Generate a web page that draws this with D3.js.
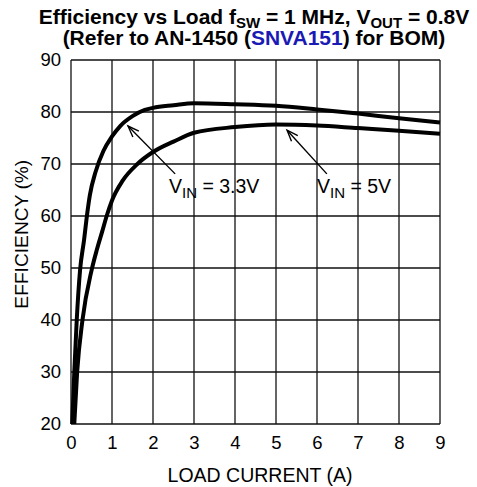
<!DOCTYPE html>
<html>
<head>
<meta charset="utf-8">
<script src="https://cdn.jsdelivr.net/npm/d3@7"></script>
<style>
  html, body { margin: 0; padding: 0; background: #fff; }
  svg { display: block; font-family: "Liberation Sans", Arial, Helvetica, sans-serif; }
</style>
</head>
<body>
<svg id="chart" width="477" height="487"></svg>
<script>
// Load current (A) vs efficiency (%) for two input voltages
const vin33 = [
  [0.03, 20], [0.08, 30], [0.14, 40], [0.22, 49.5], [0.32, 55.5], [0.38, 59.5],
  [0.46, 64], [0.6, 68.5], [0.79, 72.5], [1.0, 75.3], [1.2, 77.3], [1.5, 79.2],
  [1.8, 80.4], [2.0, 80.8], [2.5, 81.3], [3.0, 81.7], [4.0, 81.5], [5.0, 81.2],
  [6.0, 80.5], [7.0, 79.7], [8.0, 78.8], [9.0, 78.0]
];
const vin5 = [
  [0.08, 20], [0.15, 30], [0.28, 40], [0.5, 49.5], [0.63, 53.5], [0.76, 57],
  [0.87, 60], [1.0, 63], [1.26, 66.8], [1.62, 70], [2.0, 72.3], [2.5, 74.3],
  [3.0, 76.0], [4.0, 77.1], [5.0, 77.6], [6.0, 77.4], [7.0, 76.9], [8.0, 76.4],
  [9.0, 75.8]
];
const xTicks = [0, 1, 2, 3, 4, 5, 6, 7, 8, 9];
const yTicks = [20, 30, 40, 50, 60, 70, 80, 90];

// Annotation callouts: label anchor, arrow tail and arrow tip in data units
const callouts = [
  { sub: "IN", rest: " = 3.3V", label: [2.39, 64.4], tail: [2.54, 68.1], tip: [1.39, 77.3] },
  { sub: "IN", rest: " = 5V",   label: [6.0, 64.4],  tail: [6.24, 68.1], tip: [5.27, 76.5] }
];

const svg = d3.select("#chart");
const margin = { left: 71, right: 37, top: 60, bottom: 63 };
const W = 477, H = 487;
const x = d3.scaleLinear().domain([0, 9]).range([margin.left, W - margin.right]);
const y = d3.scaleLinear().domain([20, 90]).range([H - margin.bottom, margin.top]);

// Grid
const grid = svg.append("g").attr("stroke", "#111").attr("stroke-width", 1.3);
grid.selectAll("line.v").data(xTicks).join("line")
  .attr("x1", d => x(d)).attr("x2", d => x(d))
  .attr("y1", y(20)).attr("y2", y(90));
grid.selectAll("line.h").data(yTicks).join("line")
  .attr("x1", x(0)).attr("x2", x(9))
  .attr("y1", d => y(d)).attr("y2", d => y(d));

// Axes (labels only; frame comes from the grid)
const xAxis = svg.append("g").attr("transform", `translate(0,${y(20)})`)
  .call(d3.axisBottom(x).tickValues(xTicks).tickSize(0).tickPadding(12).tickFormat(d3.format("d")));
const yAxis = svg.append("g").attr("transform", `translate(${x(0)},0)`)
  .call(d3.axisLeft(y).tickValues(yTicks).tickSize(0).tickPadding(10).tickFormat(d3.format("d")));
[xAxis, yAxis].forEach(a => {
  a.select(".domain").remove();
  a.selectAll("text").attr("font-size", 18.5).attr("fill", "#000")
    .attr("font-family", "Liberation Sans, Arial, sans-serif");
});

// Curves
const line = d3.line().x(d => x(d[0])).y(d => y(d[1])).curve(d3.curveMonotoneX);
svg.selectAll("path.curve").data([vin33, vin5]).join("path")
  .attr("class", "curve")
  .attr("d", line)
  .attr("fill", "none").attr("stroke", "#000").attr("stroke-width", 4)
  .attr("stroke-linejoin", "round").attr("stroke-linecap", "butt");

// Callouts
callouts.forEach(c => {
  const x1 = x(c.tail[0]), y1 = y(c.tail[1]), x2 = x(c.tip[0]), y2 = y(c.tip[1]);
  svg.append("line").attr("x1", x1).attr("y1", y1).attr("x2", x2).attr("y2", y2)
    .attr("stroke", "#000").attr("stroke-width", 1.4);
  const ang = Math.atan2(y1 - y2, x1 - x2), len = 12, spread = 0.36;
  const p = a => [x2 + len * Math.cos(a), y2 + len * Math.sin(a)];
  const a1 = p(ang + spread), a2 = p(ang - spread);
  svg.append("path").attr("d", `M${a1[0]},${a1[1]}L${x2},${y2}L${a2[0]},${a2[1]}`)
    .attr("fill", "none").attr("stroke", "#000").attr("stroke-width", 1.4);
  const t = svg.append("text").attr("x", x(c.label[0])).attr("y", y(c.label[1]))
    .attr("font-size", 19.5).attr("fill", "#000");
  t.append("tspan").text("V");
  t.append("tspan").attr("font-size", 15).attr("dy", 5).text(c.sub);
  t.append("tspan").attr("dy", -5).text(c.rest);
});

// Axis titles
svg.append("text").attr("x", 260).attr("y", 481.5).attr("text-anchor", "middle")
  .attr("font-size", 19.5).text("LOAD CURRENT (A)");
svg.append("text").attr("transform", `translate(27.5,${y(56.5)}) rotate(-90)`)
  .attr("text-anchor", "middle").attr("font-size", 19.2).text("EFFICIENCY (%)");

// Title
const t1 = svg.append("text").attr("x", 254).attr("y", 24).attr("text-anchor", "middle")
  .attr("font-size", 21).attr("font-weight", "bold");
t1.append("tspan").text("Efficiency vs Load f");
t1.append("tspan").attr("font-size", 15).attr("dy", 3.5).text("SW");
t1.append("tspan").attr("dy", -3.5).text(" = 1 MHz, V");
t1.append("tspan").attr("font-size", 15).attr("dy", 3.5).text("OUT");
t1.append("tspan").attr("dy", -3.5).text(" = 0.8V");

const t2 = svg.append("text").attr("x", 254).attr("y", 45).attr("text-anchor", "middle")
  .attr("font-size", 21).attr("font-weight", "bold");
t2.append("tspan").text("(Refer to AN-1450 (");
t2.append("tspan").attr("fill", "#1a1ab4").text("SNVA151");
t2.append("tspan").text(") for BOM)");
</script>
</body>
</html>
